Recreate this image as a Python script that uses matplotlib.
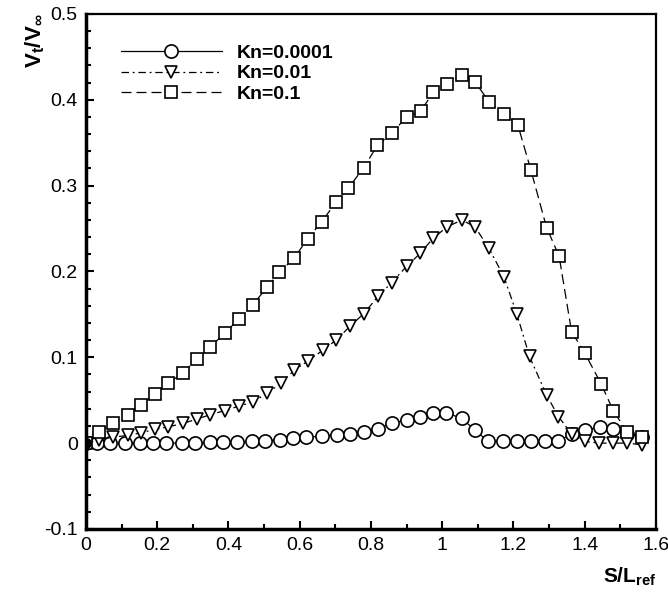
import numpy as np
import matplotlib
matplotlib.use('Agg')
import matplotlib.pyplot as plt
from matplotlib.ticker import MultipleLocator, FuncFormatter
from matplotlib import font_manager

plt.rcParams['font.family'] = ['Liberation Sans', 'DejaVu Sans']
plt.rcParams['mathtext.fontset'] = 'custom'
plt.rcParams['mathtext.rm'] = 'Liberation Sans'
plt.rcParams['mathtext.bf'] = 'Liberation Sans:bold'

# narrow face for tick labels if it is there
names = set(f.name for f in font_manager.fontManager.ttflist)
tick_family = ['Liberation Sans Narrow'] if 'Liberation Sans Narrow' in names else ['Liberation Sans']

# Kn=0.0001 (circles)
x1 = [0, 0.030, 0.067, 0.109, 0.152, 0.189, 0.226, 0.269, 0.306, 0.348, 0.385, 0.423,
      0.465, 0.502, 0.545, 0.582, 0.619, 0.662, 0.704, 0.741, 0.780, 0.820, 0.858, 0.900,
      0.938, 0.975, 1.012, 1.055, 1.092, 1.129, 1.171, 1.209, 1.248, 1.288, 1.326, 1.363,
      1.400, 1.443, 1.480, 1.518, 1.560]
y1 = [0, 0, 0, 0, 0, 0, 0, 0, 0, 0.001, 0.001, 0.001,
      0.002, 0.003, 0.004, 0.006, 0.007, 0.008, 0.010, 0.011, 0.013, 0.017, 0.023, 0.027,
      0.031, 0.035, 0.035, 0.029, 0.015, 0.002, 0.002, 0.002, 0.002, 0.002, 0.002, 0.011,
      0.015, 0.019, 0.017, 0.011, 0.007]

# Kn=0.01 (triangles)
x2 = [0, 0.037, 0.075, 0.119, 0.154, 0.194, 0.231, 0.273, 0.311, 0.348, 0.390, 0.429,
      0.468, 0.509, 0.547, 0.585, 0.624, 0.664, 0.702, 0.741, 0.780, 0.820, 0.858, 0.900,
      0.938, 0.975, 1.014, 1.055, 1.092, 1.131, 1.173, 1.209, 1.245, 1.293, 1.326, 1.363,
      1.400, 1.440, 1.480, 1.520, 1.560]
y2 = [0, 0.004, 0.007, 0.009, 0.012, 0.016, 0.019, 0.023, 0.028, 0.033, 0.038, 0.043,
      0.048, 0.058, 0.070, 0.085, 0.096, 0.108, 0.120, 0.136, 0.151, 0.171, 0.187, 0.206,
      0.221, 0.239, 0.252, 0.260, 0.252, 0.227, 0.194, 0.151, 0.101, 0.056, 0.031, 0.011,
      0.002, 0, 0, 0, -0.002]

# Kn=0.1 (squares)
x3 = [0, 0.037, 0.075, 0.119, 0.154, 0.194, 0.231, 0.273, 0.311, 0.348, 0.390, 0.429,
      0.468, 0.509, 0.543, 0.585, 0.622, 0.662, 0.702, 0.736, 0.780, 0.818, 0.858, 0.900,
      0.940, 0.975, 1.014, 1.055, 1.092, 1.131, 1.173, 1.212, 1.249, 1.293, 1.328, 1.363,
      1.400, 1.446, 1.480, 1.519, 1.560]
y3 = [0, 0.013, 0.023, 0.033, 0.045, 0.057, 0.070, 0.082, 0.098, 0.112, 0.128, 0.145,
      0.161, 0.182, 0.199, 0.216, 0.238, 0.258, 0.281, 0.297, 0.321, 0.347, 0.361, 0.380,
      0.387, 0.409, 0.419, 0.429, 0.421, 0.398, 0.384, 0.371, 0.318, 0.251, 0.218, 0.130,
      0.105, 0.069, 0.038, 0.013, 0.007]

labels = ['Kn=0.0001', 'Kn=0.01', 'Kn=0.1']

fig = plt.figure(figsize=(6.68, 5.95), dpi=100)
ax = fig.add_axes([0.1287, 0.111, 0.8533, 0.8655])

ax.plot(x1, y1, color='black', lw=0.9, ls='-', marker='o', ms=9.5, mfc='white',
        mec='black', mew=1.2, label=labels[0])
ax.plot(x2, y2, color='black', lw=0.9, ls=(0, (6, 3, 1.5, 3)), marker='v', ms=8,
        mfc='white', mec='black', mew=1.2, label=labels[1])
ax.plot(x3, y3, color='black', lw=0.9, ls=(0, (8, 4)), marker='s', ms=8,
        mfc='white', mec='black', mew=1.2, label=labels[2])
ax.plot([0], [0], 'o', color='black', ms=7)

ax.set_xlim(0, 1.6)
ax.set_ylim(-0.1, 0.5)
ax.xaxis.set_major_locator(MultipleLocator(0.2))
ax.xaxis.set_minor_locator(MultipleLocator(0.1))
ax.yaxis.set_major_locator(MultipleLocator(0.1))
ax.yaxis.set_minor_locator(MultipleLocator(0.02))
fmt = FuncFormatter(lambda v, p: '%g' % round(v, 3))
ax.xaxis.set_major_formatter(fmt)
ax.yaxis.set_major_formatter(fmt)
ax.tick_params(which='both', direction='in', labelsize=14, width=1.5, pad=6)
ax.tick_params(which='major', length=6)
ax.tick_params(which='minor', length=3.5)
for t in ax.get_xticklabels() + ax.get_yticklabels():
    t.set_family(tick_family)

ax.spines['left'].set_linewidth(2.5)
ax.spines['bottom'].set_linewidth(2.5)
ax.spines['top'].set_linewidth(1.6)
ax.spines['right'].set_linewidth(1.6)

leg = ax.legend(loc='upper left', bbox_to_anchor=(0.03, 0.975), frameon=False,
                handlelength=5.2, handletextpad=0.8, labelspacing=0.15,
                prop={'weight': 'bold', 'size': 14})

fig.text(0.052, 0.978, r'$\mathbf{V_t/V_\infty}$', rotation=90, fontsize=16,
         ha='center', va='top')
fig.text(0.982, 0.012, r'$\mathbf{S/L_{ref}}$', fontsize=15, ha='right', va='bottom')

fig.savefig('out.png', dpi=100)
